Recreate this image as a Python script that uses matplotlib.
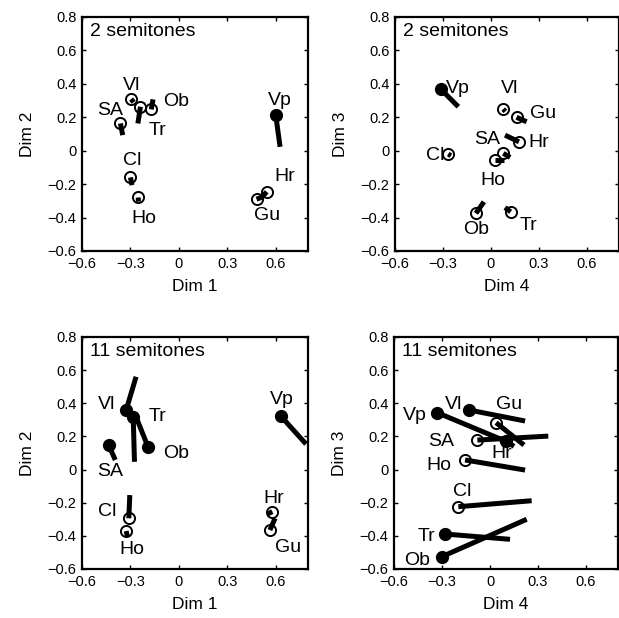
import matplotlib
matplotlib.use("Agg")
import matplotlib.pyplot as plt

plt.rcParams['font.family'] = ['Liberation Sans', 'DejaVu Sans']

# ---------------- data ----------------
# Panel A: 2 semitones, Dim 1 (x) vs Dim 2 (y)
a_names = ["Vl", "Tr", "Ob", "SA", "Cl", "Ho", "Vp", "Hr", "Gu"]
a_x     = [-0.296, -0.238, -0.171, -0.362, -0.300, -0.252, 0.600, 0.544, 0.481]
a_y     = [0.309, 0.263, 0.247, 0.163, -0.160, -0.280, 0.213, -0.246, -0.290]
a_x2    = [-0.280, -0.254, -0.160, -0.348, -0.290, -0.250, 0.627, 0.508, 0.510]
a_y2    = [0.290, 0.163, 0.307, 0.093, -0.206, -0.305, 0.023, -0.286, -0.280]
a_fill  = [False, False, False, False, False, False, True, False, False]

# Panel B: 2 semitones, Dim 4 (x) vs Dim 3 (y)
b_names = ["Vp", "Vl", "Gu", "Hr", "SA", "Ho", "Cl", "Ob", "Tr"]
b_x     = [-0.312, 0.077, 0.160, 0.175, 0.077, 0.025, -0.267, -0.094, 0.123]
b_y     = [0.367, 0.249, 0.200, 0.053, -0.016, -0.056, -0.020, -0.375, -0.366]
b_x2    = [-0.204, 0.090, 0.223, 0.088, 0.120, 0.083, -0.250, -0.044, 0.088]
b_y2    = [0.263, 0.235, 0.173, 0.093, -0.040, -0.056, -0.030, -0.306, -0.340]
b_fill  = [True, False, False, False, False, False, False, False, False]

# Panel C: 11 semitones, Dim 1 (x) vs Dim 2 (y)
c_names = ["Vl", "Tr", "Ob", "SA", "Cl", "Ho", "Vp", "Hr", "Gu"]
c_x     = [-0.327, -0.283, -0.190, -0.435, -0.310, -0.327, 0.631, 0.579, 0.564]
c_y     = [0.359, 0.319, 0.134, 0.148, -0.294, -0.371, 0.323, -0.254, -0.365]
c_x2    = [-0.265, -0.275, -0.258, -0.394, -0.304, -0.318, 0.788, 0.545, 0.596]
c_y2    = [0.560, 0.047, 0.300, 0.058, -0.154, -0.405, 0.154, -0.270, -0.294]
c_fill  = [True, True, True, True, False, False, True, False, False]

# Panel D: 11 semitones, Dim 4 (x) vs Dim 3 (y)
d_names = ["Vp", "Vl", "Gu", "SA", "Hr", "Ho", "Cl", "Tr", "Ob"]
d_x     = [-0.329, -0.129, 0.038, -0.079, 0.100, -0.156, -0.198, -0.281, -0.302]
d_y     = [0.343, 0.359, 0.283, 0.178, 0.170, 0.058, -0.224, -0.389, -0.526]
d_x2    = [0.100, 0.219, 0.212, 0.364, 0.150, 0.219, 0.260, 0.125, 0.229]
d_y2    = [0.170, 0.293, 0.148, 0.202, 0.140, -0.003, -0.188, -0.421, -0.300]
d_fill  = [True, True, False, False, True, False, False, True, True]

tick_vals = [-0.6, -0.3, 0, 0.3, 0.6]
tick_labels = ["\u22120.6", "\u22120.3", "0", "0.3", "0.6"]
ytick_vals = [-0.6, -0.4, -0.2, 0, 0.2, 0.4, 0.6, 0.8]
ytick_labels = ["\u22120.6", "\u22120.4", "\u22120.2", "0", "0.2", "0.4", "0.6", "0.8"]

# label placement (layout)
a_lab = [(-0.29, 0.393), (-0.133, 0.123), (-0.019, 0.293), (-0.425, 0.243), (-0.29, -0.056),
         (-0.217, -0.405), (0.627, 0.303), (0.658, -0.156), (0.544, -0.386)]
b_lab = [(-0.204, 0.373), (0.119, 0.373), (0.327, 0.223), (0.296, 0.047), (-0.027, 0.067),
         (0.015, -0.176), (-0.35, -0.026), (-0.094, -0.471), (0.233, -0.445)]
c_lab = [(-0.446, 0.39), (-0.133, 0.323), (-0.019, 0.098), (-0.425, -0.013), (-0.446, -0.254),
         (-0.294, -0.481), (0.6375, 0.424), (0.585, -0.173), (0.679, -0.469)]
d_lab = [(-0.469, 0.329), (-0.229, 0.39), (0.121, 0.39), (-0.308, 0.168), (0.073, 0.098),
         (-0.317, 0.022), (-0.177, -0.134), (-0.4, -0.405), (-0.458, -0.55)]

panels = [
    ([0.1325, 0.5939, 0.3651, 0.3786], a_names, a_x, a_y, a_x2, a_y2, a_fill, a_lab,
     "2 semitones", "Dim 1", "Dim 2"),
    ([0.638, 0.5939, 0.362, 0.3786], b_names, b_x, b_y, b_x2, b_y2, b_fill, b_lab,
     "2 semitones", "Dim 4", "Dim 3"),
    ([0.1325, 0.0793, 0.3651, 0.3754], c_names, c_x, c_y, c_x2, c_y2, c_fill, c_lab,
     "11 semitones", "Dim 1", "Dim 2"),
    ([0.6365, 0.0793, 0.362, 0.3754], d_names, d_x, d_y, d_x2, d_y2, d_fill, d_lab,
     "11 semitones", "Dim 4", "Dim 3"),
]

fig = plt.figure(figsize=(6.19, 6.18), dpi=100)

for rect, names, xs, ys, x2s, y2s, fills, labs, title, xl, yl in panels:
    ax = fig.add_axes(rect)
    for n, x, y, x2, y2, f, (lx, ly) in zip(names, xs, ys, x2s, y2s, fills, labs):
        if f:
            ax.plot([x], [y], 'o', ms=8.5, mfc='black', mec='black', zorder=2)
        else:
            ax.plot([x], [y], 'o', ms=8.0, mfc='white', mec='black', mew=1.4, zorder=2)
        ax.plot([x, x2], [y, y2], '-', color='black', lw=3.6,
                solid_capstyle='butt', zorder=3)
        ax.text(lx, ly, n, fontsize=14, ha='center', va='center', zorder=4)
    ax.set_xlim(-0.6, 0.8)
    ax.set_ylim(-0.6, 0.8)
    ax.set_xticks(tick_vals)
    ax.set_xticklabels(tick_labels)
    ax.set_yticks(ytick_vals)
    ax.set_yticklabels(ytick_labels)
    ax.tick_params(direction='in', top=True, right=True, length=3, width=1,
                   labelsize=10.5, pad=4)
    for s in ax.spines.values():
        s.set_linewidth(1.6)
    ax.text(0.035, 0.975, title, transform=ax.transAxes, fontsize=14,
            ha='left', va='top')
    ax.set_xlabel(xl, fontsize=12.5, labelpad=6)
    ax.set_ylabel(yl, fontsize=12.5, labelpad=9)

fig.savefig("out.png", dpi=100)
